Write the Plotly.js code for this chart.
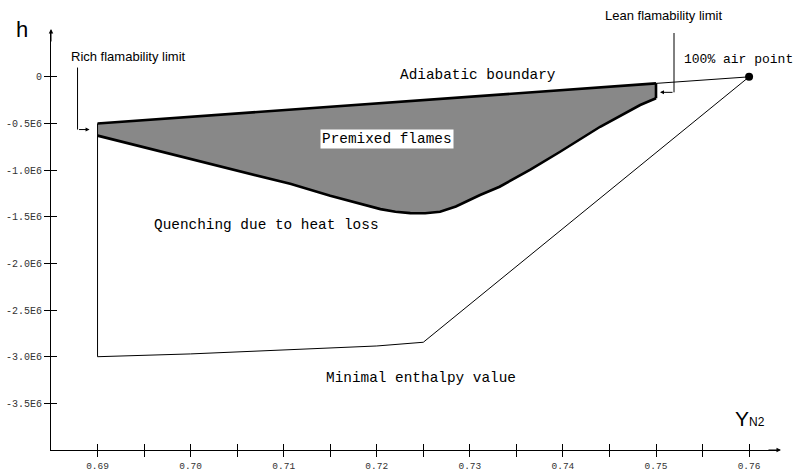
<!DOCTYPE html>
<html>
<head>
<meta charset="utf-8">
<script src="https://cdn.plot.ly/plotly-3.0.1.min.js"></script>
<style>
  html, body { margin: 0; padding: 0; background: #fff; }
  #chart { width: 793px; height: 474px; }
</style>
</head>
<body>
<div id="chart"></div>
<script>
// Mass fraction of N2 (x) and enthalpy h (y) of the flamelet regimes.

// Adiabatic boundary between the rich and lean flamability limits
const adiabaticX = [0.69, 0.75];
const adiabaticH = [-0.5e6, -0.07e6];

// Lower edge of the premixed-flame region (quenching limit)
const quenchX = [0.69, 0.70, 0.7107, 0.715, 0.7204, 0.722, 0.7236, 0.7252, 0.7268, 0.7285, 0.7311, 0.7332, 0.7365, 0.7397, 0.744, 0.7483, 0.75];
const quenchH = [-0.63e6, -0.883e6, -1.147e6, -1.275e6, -1.418e6, -1.447e6, -1.461e6, -1.462e6, -1.446e6, -1.39e6, -1.267e6, -1.178e6, -0.995e6, -0.803e6, -0.535e6, -0.302e6, -0.23e6];

// 100% air point
const airX = [0.76];
const airH = [0];

// Minimal enthalpy boundary, from the rich limit down and back up to air
const minEnthX = [0.69, 0.69, 0.70, 0.71, 0.72, 0.725, 0.76];
const minEnthH = [-0.5e6, -3.0e6, -2.97e6, -2.93e6, -2.885e6, -2.845e6, 0];

// Axis ticks
const xTickVals = [0.69, 0.695, 0.70, 0.705, 0.71, 0.715, 0.72, 0.725, 0.73, 0.735, 0.74, 0.745, 0.75, 0.755, 0.76];
const xTickText = ['0.69', '', '0.70', '', '0.71', '', '0.72', '', '0.73', '', '0.74', '', '0.75', '', '0.76'];
const yTickVals = [0, -0.5e6, -1.0e6, -1.5e6, -2.0e6, -2.5e6, -3.0e6, -3.5e6];
const yTickText = ['0', '-0.5E6', '-1.0E6', '-1.5E6', '-2.0E6', '-2.5E6', '-3.0E6', '-3.5E6'];

const xRange = [0.685, 0.763];
const yRange = [-4.0e6, 0.47e6];

const MONO = 'Liberation Mono, Courier New, monospace';
const SANS = 'Liberation Sans, Arial, Helvetica, sans-serif';

// Closed outline of the premixed-flame region
const regionX = adiabaticX.concat(quenchX.slice().reverse());
const regionH = adiabaticH.concat(quenchH.slice().reverse());

const traces = [
  {
    x: regionX, y: regionH, mode: 'lines', fill: 'toself',
    fillcolor: '#8a8a8a',
    fillpattern: { shape: '.', bgcolor: '#b0b0b0', fgcolor: '#555555', size: 2, solidity: 0.5 },
    line: { width: 0 }, hoverinfo: 'skip'
  },
  {
    x: minEnthX, y: minEnthH, mode: 'lines',
    line: { color: '#000', width: 1 }, hoverinfo: 'skip'
  },
  {
    x: [adiabaticX[1], airX[0]], y: [adiabaticH[1], airH[0]], mode: 'lines',
    line: { color: '#000', width: 1 }, hoverinfo: 'skip'
  },
  {
    x: adiabaticX, y: adiabaticH, mode: 'lines',
    line: { color: '#000', width: 2.6 }, hoverinfo: 'skip'
  },
  {
    x: quenchX, y: quenchH, mode: 'lines',
    line: { color: '#000', width: 2.6 }, hoverinfo: 'skip'
  },
  {
    x: [adiabaticX[1], quenchX[quenchX.length - 1]], y: [adiabaticH[1], quenchH[quenchH.length - 1]], mode: 'lines',
    line: { color: '#000', width: 2.6 }, hoverinfo: 'skip'
  },
  {
    x: airX, y: airH, mode: 'markers',
    marker: { color: '#000', size: 8 }, cliponaxis: false, hoverinfo: 'skip'
  },
  // carriers for the mirrored tick axes
  { x: airX, y: airH, xaxis: 'x2', yaxis: 'y', mode: 'markers', marker: { opacity: 0 }, hoverinfo: 'skip' },
  { x: airX, y: airH, xaxis: 'x', yaxis: 'y2', mode: 'markers', marker: { opacity: 0 }, hoverinfo: 'skip' }
];

const baseX = {
  range: xRange, showgrid: false, zeroline: false, tickvals: xTickVals,
  tickcolor: '#000', tickwidth: 1, ticklen: 6, fixedrange: true
};
const baseY = {
  range: yRange, showgrid: false, zeroline: false, tickvals: yTickVals,
  tickcolor: '#000', tickwidth: 1, ticklen: 6, fixedrange: true
};

function txt(x, y, text, font, extra) {
  return Object.assign({
    xref: 'x', yref: 'y', x: x, y: y, text: text, showarrow: false,
    font: font, xanchor: 'center', yanchor: 'middle'
  }, extra || {});
}

const arrowStyle = { showarrow: true, arrowhead: 2, arrowwidth: 1, arrowcolor: '#000', text: '' };

const annotations = [
  // axis arrowheads
  Object.assign({ xref: 'paper', yref: 'paper', x: 1.0055, y: 0, ax: -14, ay: 0, arrowsize: 0.9 }, arrowStyle),
  Object.assign({ xref: 'paper', yref: 'paper', x: 0, y: 1.0096, ax: 0, ay: 14, arrowsize: 0.9 }, arrowStyle),
  // flamability limit callouts
  Object.assign({ xref: 'x', yref: 'y', x: adiabaticX[0], y: -0.565e6, ax: -20, ay: 0, standoff: 8, arrowsize: 0.8 }, arrowStyle),
  Object.assign({ xref: 'x', yref: 'y', x: adiabaticX[1], y: -0.166e6, ax: 18, ay: 0, standoff: 4, arrowsize: 0.8 }, arrowStyle),
  // labels
  txt(-0.0399, 1.0072, 'h', { family: SANS, size: 22, color: '#000' }, { xref: 'paper', yref: 'paper' }),
  txt(0.69335, 0.216e6, 'Rich flamability limit', { family: SANS, size: 13, color: '#000' }),
  txt(0.8439, 1.0425, 'Lean flamability limit', { family: SANS, size: 13, color: '#000' }, { xref: 'paper', yref: 'paper' }),
  txt(0.75881, 0.181e6, '100% air point', { family: MONO, size: 13, color: '#000' }),
  txt(0.73088, 0.020e6, 'Adiabatic boundary', { family: MONO, size: 14.4, color: '#000' }),
  txt(0.72110, -0.661e6, 'Premixed flames', { family: MONO, size: 14.4, color: '#000' },
      { bgcolor: '#fff', borderpad: 1 }),
  txt(0.70810, -1.588e6, 'Quenching due to heat loss', { family: MONO, size: 14.4, color: '#000' }),
  txt(0.72475, -3.223e6, 'Minimal enthalpy value', { family: MONO, size: 14.4, color: '#000' }),
  txt(0.7601, -3.657e6, 'Y<span style="font-size:12px">N2</span>', { family: SANS, size: 21, color: '#000' })
];

const shapes = [
  // vertical legs of the callout arrows
  { type: 'line', xref: 'x', yref: 'y', xsizemode: 'pixel', ysizemode: 'pixel',
    xanchor: adiabaticX[0], yanchor: -0.565e6, x0: -20, x1: -20, y0: 0, y1: 62,
    line: { color: '#000', width: 1 } },
  { type: 'line', xref: 'x', yref: 'y', xsizemode: 'pixel', ysizemode: 'pixel',
    xanchor: adiabaticX[1], yanchor: -0.166e6, x0: 18, x1: 18, y0: 0, y1: 66,
    line: { color: '#000', width: 1 } }
];

const layout = {
  width: 793, height: 474,
  margin: { l: 51, r: 16, t: 33, b: 24, pad: 0 },
  paper_bgcolor: '#fff', plot_bgcolor: '#fff',
  showlegend: false,
  xaxis: Object.assign({}, baseX, {
    showline: true, linecolor: '#000', linewidth: 1, ticks: 'outside',
    ticktext: xTickText, ticklabelstandoff: 1,
    tickfont: { family: MONO, size: 9.5, color: '#333' }
  }),
  xaxis2: Object.assign({}, baseX, {
    overlaying: 'x', anchor: 'y', side: 'bottom', ticks: 'inside',
    showticklabels: false, showline: false
  }),
  yaxis: Object.assign({}, baseY, {
    showline: true, linecolor: '#000', linewidth: 1, ticks: 'outside',
    ticktext: yTickText,
    tickfont: { family: MONO, size: 10, color: '#333' }
  }),
  yaxis2: Object.assign({}, baseY, {
    overlaying: 'y', anchor: 'x', side: 'left', ticks: 'inside',
    showticklabels: false, showline: false
  }),
  annotations: annotations,
  shapes: shapes
};

Plotly.newPlot('chart', traces, layout, { staticPlot: true, displayModeBar: false });
</script>
</body>
</html>
